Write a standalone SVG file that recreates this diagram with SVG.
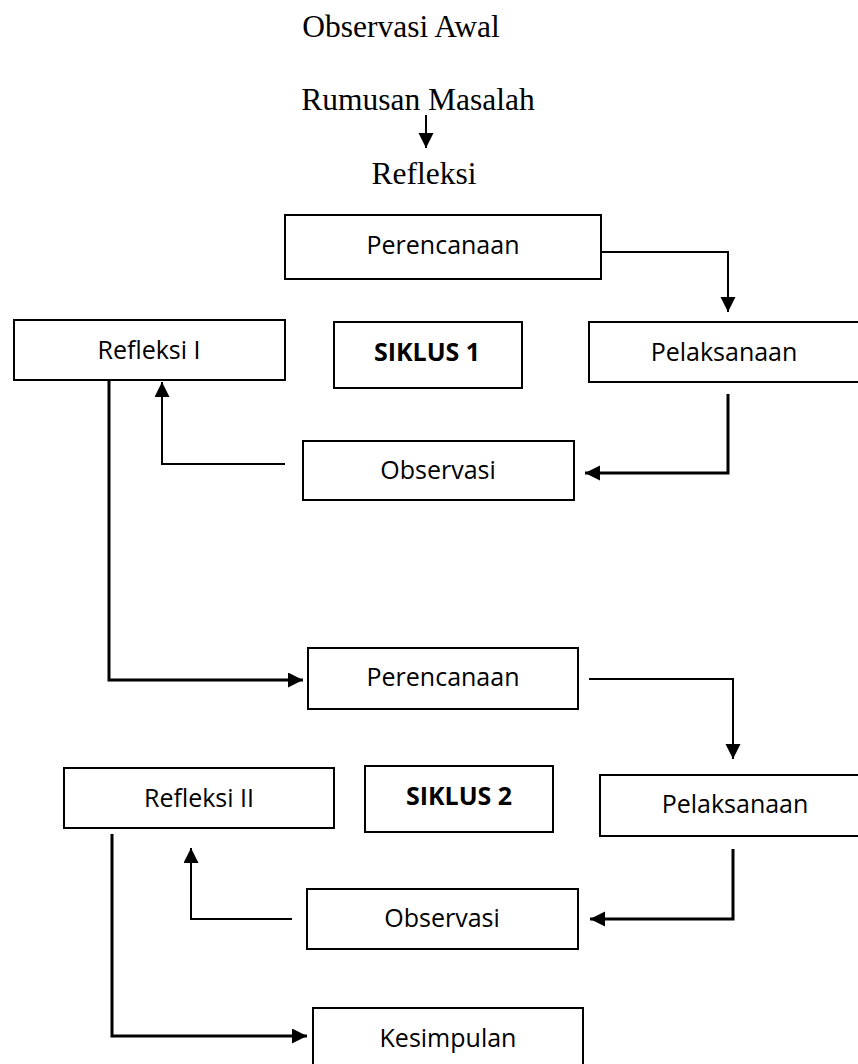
<svg xmlns="http://www.w3.org/2000/svg" width="858" height="1064" viewBox="0 0 858 1064">
<style>
.bg{fill:#fff}
.box{fill:#fff;stroke:#000;stroke-width:2}
.t{font-family:"Open Sans","Liberation Sans",sans-serif;font-size:25px;fill:#000;text-anchor:middle}
.b{font-weight:bold}
.ser{font-family:"Liberation Serif","Times New Roman",serif;font-size:31.5px;fill:#000;text-anchor:middle}
.c{fill:none;stroke:#000;stroke-width:2;marker-end:url(#ah)}
.c0{fill:none;stroke:#000;stroke-width:2}
.thick{stroke-width:3}
</style>
<defs>
<marker id="ah" markerUnits="userSpaceOnUse" markerWidth="16" markerHeight="16" refX="15" refY="7.5" orient="auto">
<path d="M0,0 L15,7.5 L0,15 z" fill="#000"/>
</marker>
</defs>
<rect class="bg" x="0" y="0" width="858" height="1064"/>

<g id="observasi-awal"><text class="ser" x="401" y="37">Observasi Awal</text></g>
<g id="rumusan-masalah"><text class="ser" x="418" y="110">Rumusan Masalah</text></g>
<g id="refleksi"><text class="ser" x="424" y="184">Refleksi</text></g>

<g id="perencanaan1"><rect class="box" x="285" y="215" width="316" height="64"/><text class="t" x="443" y="254">Perencanaan</text></g>
<g id="refleksi1"><rect class="box" x="14" y="320" width="271" height="60"/><text class="t" x="149" y="359">Refleksi I</text></g>
<g id="siklus1"><rect class="box" x="334" y="322" width="188" height="66"/><text class="t b" x="427" y="361">SIKLUS 1</text></g>
<g id="pelaksanaan1"><rect class="box" x="589" y="322" width="272" height="60"/><text class="t" x="724" y="361">Pelaksanaan</text></g>
<g id="observasi1"><rect class="box" x="303" y="441" width="271" height="59"/><text class="t" x="438" y="479">Observasi</text></g>

<g id="perencanaan2"><rect class="box" x="308" y="648" width="270" height="61"/><text class="t" x="443" y="686">Perencanaan</text></g>
<g id="refleksi2"><rect class="box" x="64" y="768" width="270" height="60"/><text class="t" x="199" y="807">Refleksi II</text></g>
<g id="siklus2"><rect class="box" x="365" y="766" width="188" height="66"/><text class="t b" x="459" y="805">SIKLUS 2</text></g>
<g id="pelaksanaan2"><rect class="box" x="600" y="775" width="272" height="61"/><text class="t" x="735" y="813">Pelaksanaan</text></g>
<g id="observasi2"><rect class="box" x="307" y="889" width="271" height="60"/><text class="t" x="442" y="927">Observasi</text></g>
<g id="kesimpulan"><rect class="box" x="313" y="1008" width="270" height="62"/><text class="t" x="448" y="1047">Kesimpulan</text></g>

<g id="connectors">
<path class="c" d="M426,115 V148"/>
<path class="c" d="M601,252 H728 V312"/>
<path class="c thick" d="M728,394 V473 H585"/>
<path class="c" d="M285,464 H162 V382"/>
<path class="c thick" d="M109,380 V680 H303"/>
<path class="c" d="M589,679 H733 V759"/>
<path class="c thick" d="M733,849 V919 H590"/>
<path class="c" d="M292,919 H191 V848"/>
<path class="c thick" d="M112,834 V1036 H307"/>
</g>
</svg>
